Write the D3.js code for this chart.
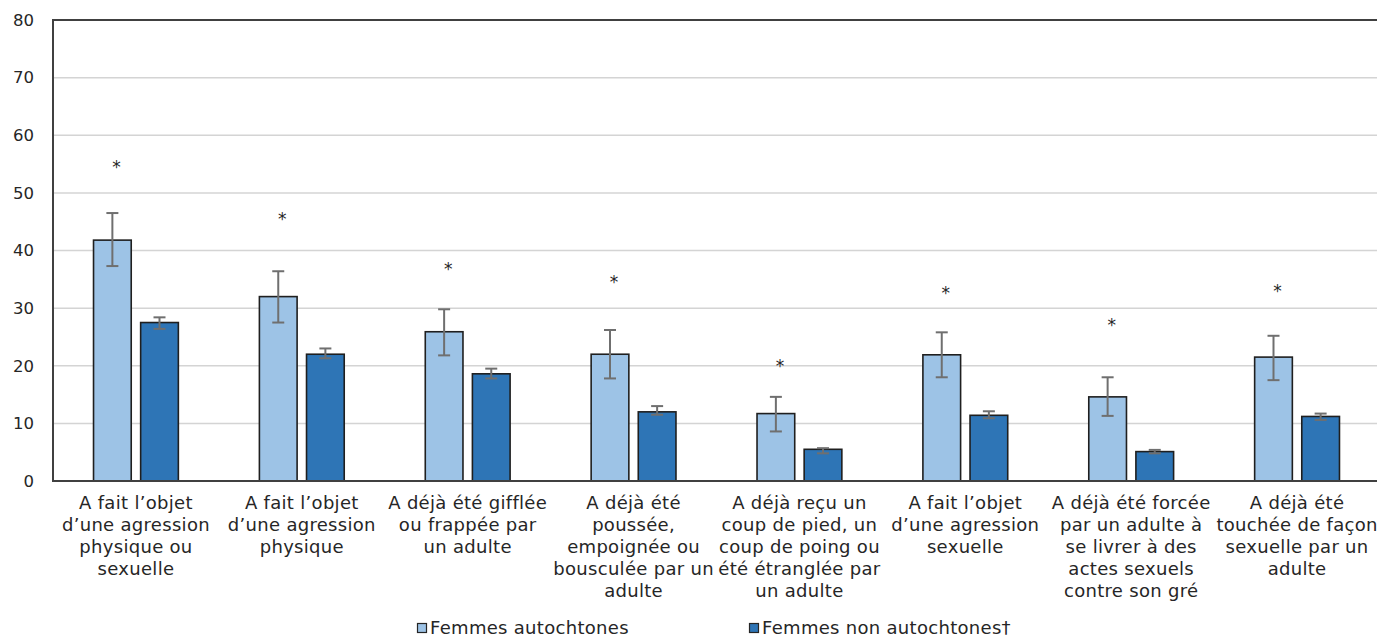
<!DOCTYPE html>
<html lang="fr">
<head>
<meta charset="utf-8">
<title>Violence subie pendant l’enfance</title>
<script src="https://cdn.jsdelivr.net/npm/d3@7"></script>
<style>
  html, body { margin: 0; padding: 0; background: #ffffff; }
  svg { display: block; font-family: "DejaVu Sans", Verdana, sans-serif; }
</style>
</head>
<body>
<svg id="chart" width="1377" height="639"></svg>
<script>
// Category labels, one entry per line of the wrapped label
const categories = [
  ["A fait l’objet", "d’une agression", "physique ou", "sexuelle"],
  ["A fait l’objet", "d’une agression", "physique"],
  ["A déjà été gifflée", "ou frappée par", "un adulte"],
  ["A déjà été", "poussée,", "empoignée ou", "bousculée par un", "adulte"],
  ["A déjà reçu un", "coup de pied, un", "coup de poing ou", "été étranglée par", "un adulte"],
  ["A fait l’objet", "d’une agression", "sexuelle"],
  ["A déjà été forcée", "par un adulte à", "se livrer à des", "actes sexuels", "contre son gré"],
  ["A déjà été", "touchée de façon", "sexuelle par un", "adulte"]
];

const seriesNames = ["Femmes autochtones", "Femmes non autochtones†"];

// Percentages
const autochtones = [41.8, 32.0, 25.9, 22.0, 11.7, 21.9, 14.6, 21.5];
const nonAutochtones = [27.5, 22.0, 18.6, 12.0, 5.5, 11.4, 5.1, 11.2];

// 95% confidence intervals (low, high)
const autochtonesLow  = [37.3, 27.5, 21.8, 17.8, 8.6, 18.0, 11.3, 17.5];
const autochtonesHigh = [46.5, 36.4, 29.8, 26.2, 14.6, 25.8, 18.0, 25.2];
const nonAutochtonesLow  = [26.4, 21.3, 17.8, 11.5, 4.8, 10.9, 4.8, 10.6];
const nonAutochtonesHigh = [28.4, 23.0, 19.5, 13.0, 5.7, 12.1, 5.4, 11.7];

// Significance marker (*) heights, in percent
const significance = [55.1, 46.2, 37.5, 35.2, 20.6, 33.3, 27.8, 33.6];

const yTicks = [0, 10, 20, 30, 40, 50, 60, 70, 80];

const colors = ["#9dc3e6", "#2e75b6"];
const textColor = "#262626";
const labelFont = 18;

const svg = d3.select("#chart");
const margin = { left: 53, right: 1380, top: 20, bottom: 481 };

const groupKeys = d3.range(categories.length);
const x0 = d3.scaleBand().domain(groupKeys).range([margin.left, margin.right]).paddingInner(0).paddingOuter(0);
const x1 = d3.scaleBand().domain([0, 1]).range([0, x0.bandwidth()]).paddingInner(0.2).paddingOuter(0.86);
const y = d3.scaleLinear().domain([0, 80]).range([margin.bottom, margin.top]);

// Horizontal gridlines
svg.append("g")
  .selectAll("line")
  .data(yTicks.filter(d => d > 0 && d < 80))
  .join("line")
  .attr("x1", margin.left)
  .attr("x2", 1377)
  .attr("y1", d => y(d))
  .attr("y2", d => y(d))
  .attr("stroke", "#d4d4d4")
  .attr("stroke-width", 1.5);

// Y axis tick labels
const yAxis = d3.axisLeft(y).tickValues(yTicks).tickSize(0).tickPadding(19);
const yg = svg.append("g").attr("transform", `translate(${margin.left},0)`).call(yAxis);
yg.select(".domain").remove();
yg.selectAll("text")
  .attr("font-size", 16.5)
  .attr("font-family", "\"DejaVu Sans\", Verdana, sans-serif")
  .attr("fill", textColor);

// Data table built from the arrays
const rows = groupKeys.map(i => ({
  i,
  values: [
    { s: 0, v: autochtones[i], lo: autochtonesLow[i], hi: autochtonesHigh[i] },
    { s: 1, v: nonAutochtones[i], lo: nonAutochtonesLow[i], hi: nonAutochtonesHigh[i] }
  ]
}));

const groups = svg.append("g")
  .selectAll("g")
  .data(rows)
  .join("g")
  .attr("transform", d => `translate(${x0(d.i)},0)`);

// Bars
groups.selectAll("rect")
  .data(d => d.values)
  .join("rect")
  .attr("x", d => x1(d.s))
  .attr("y", d => y(d.v))
  .attr("width", x1.bandwidth())
  .attr("height", d => y(0) - y(d.v))
  .attr("fill", d => colors[d.s])
  .attr("stroke", "#1f1f1f")
  .attr("stroke-width", 1.6);

// Error bars
const capHalf = 6;
const err = groups.selectAll("g.err")
  .data(d => d.values)
  .join("g")
  .attr("class", "err")
  .attr("stroke", "#6f6f6f")
  .attr("stroke-width", 2);
err.append("line")
  .attr("x1", d => x1(d.s) + x1.bandwidth() / 2)
  .attr("x2", d => x1(d.s) + x1.bandwidth() / 2)
  .attr("y1", d => y(d.lo))
  .attr("y2", d => y(d.hi));
err.append("line")
  .attr("x1", d => x1(d.s) + x1.bandwidth() / 2 - capHalf)
  .attr("x2", d => x1(d.s) + x1.bandwidth() / 2 + capHalf)
  .attr("y1", d => y(d.hi))
  .attr("y2", d => y(d.hi));
err.append("line")
  .attr("x1", d => x1(d.s) + x1.bandwidth() / 2 - capHalf)
  .attr("x2", d => x1(d.s) + x1.bandwidth() / 2 + capHalf)
  .attr("y1", d => y(d.lo))
  .attr("y2", d => y(d.lo));

// Significance markers above the first series
groups.append("text")
  .attr("x", x1(0) + x1.bandwidth() / 2 + 4)
  .attr("y", d => y(significance[d.i]) + 10)
  .attr("text-anchor", "middle")
  .attr("font-size", 17)
  .attr("fill", textColor)
  .text("*");

// Plot frame: top border, left axis, baseline
svg.append("line")
  .attr("x1", margin.left).attr("x2", 1377)
  .attr("y1", y(80)).attr("y2", y(80))
  .attr("stroke", "#404040").attr("stroke-width", 2);
svg.append("line")
  .attr("x1", margin.left).attr("x2", margin.left)
  .attr("y1", y(80) - 1).attr("y2", y(0) + 1)
  .attr("stroke", "#404040").attr("stroke-width", 2);
svg.append("line")
  .attr("x1", margin.left).attr("x2", 1377)
  .attr("y1", y(0)).attr("y2", y(0))
  .attr("stroke", "#404040").attr("stroke-width", 2);

// Category labels
const labels = svg.append("g")
  .selectAll("text")
  .data(rows)
  .join("text")
  .attr("text-anchor", "middle")
  .attr("font-size", labelFont)
  .attr("letter-spacing", 0.3)
  .attr("fill", textColor)
  .attr("transform", d => `translate(${x0(d.i) + x0.bandwidth() / 2},509)`);
labels.selectAll("tspan")
  .data(d => categories[d.i])
  .join("tspan")
  .attr("x", 0)
  .attr("y", (d, k) => k * 22)
  .text(d => d);

// Legend
const legendX = [417, 749];
const legend = svg.append("g")
  .selectAll("g")
  .data(seriesNames)
  .join("g")
  .attr("transform", (d, k) => `translate(${legendX[k]},623)`);
legend.append("rect")
  .attr("x", 0.5).attr("y", 0.5)
  .attr("width", 9).attr("height", 9)
  .attr("fill", (d, k) => colors[k])
  .attr("stroke", textColor)
  .attr("stroke-width", 1.2);
legend.append("text")
  .attr("x", 13)
  .attr("y", 11)
  .attr("font-size", labelFont)
  .attr("letter-spacing", 0.3)
  .attr("fill", textColor)
  .text(d => d);
</script>
</body>
</html>
